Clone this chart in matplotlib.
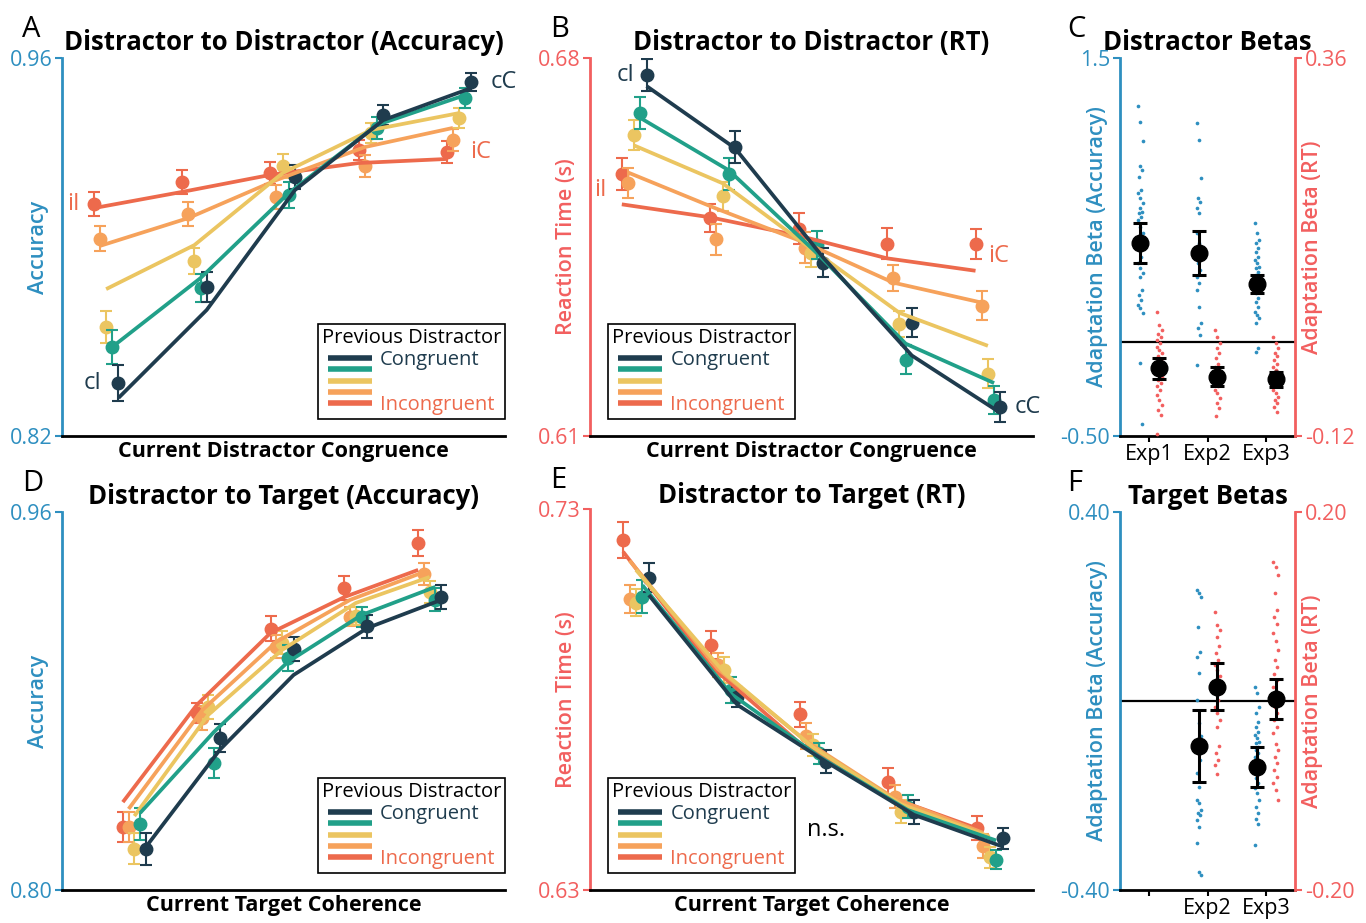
import numpy as np
import matplotlib
matplotlib.use("Agg")
import matplotlib.pyplot as plt

plt.rcParams['font.family'] = ['Open Sans', 'DejaVu Sans']

NAVY = '#1f3c4e'
TEAL = '#21a089'
YELLOW = '#ebc561'
ORANGE = '#f6a25b'
RED = '#ed6a4c'
BLUE = '#2e8fc0'
PINK = '#f25f5f'
colors = [NAVY, TEAL, YELLOW, ORANGE, RED]
legend_labels = ['Congruent', '', '', '', 'Incongruent']
levels = [1, 2, 3, 4, 5]

# --- A: distractor -> distractor, accuracy (rows: navy, teal, yellow, orange, red)
a_pts = [[0.8396, 0.8752, 0.9159, 0.9389, 0.9511],
         [0.8530, 0.8748, 0.9093, 0.9341, 0.9452],
         [0.8604, 0.8848, 0.9200, 0.9322, 0.9378],
         [0.8930, 0.9022, 0.9085, 0.9200, 0.9296],
         [0.9059, 0.9141, 0.9174, 0.9259, 0.9252]]
a_fit = [[0.8341, 0.8667, 0.9111, 0.9370, 0.9489],
         [0.8530, 0.8785, 0.9100, 0.9352, 0.9463],
         [0.8744, 0.8907, 0.9174, 0.9333, 0.9396],
         [0.8904, 0.9007, 0.9148, 0.9270, 0.9341],
         [0.9044, 0.9104, 0.9167, 0.9211, 0.9226]]
a_err = [[0.0068, 0.0056, 0.0043, 0.0037, 0.0035],
         [0.0064, 0.0052, 0.0049, 0.0040, 0.0038],
         [0.0060, 0.0047, 0.0043, 0.0037, 0.0037],
         [0.0046, 0.0046, 0.0046, 0.0041, 0.0040],
         [0.0043, 0.0044, 0.0040, 0.0037, 0.0040]]

# --- B: distractor -> distractor, RT
b_pts = [[0.6768, 0.6635, 0.6421, 0.6310, 0.6154],
         [0.6698, 0.6585, 0.6453, 0.6241, 0.6167],
         [0.6657, 0.6544, 0.6438, 0.6308, 0.6215],
         [0.6568, 0.6464, 0.6449, 0.6393, 0.6341],
         [0.6585, 0.6503, 0.6484, 0.6456, 0.6455]]
b_fit = [[0.6748, 0.6633, 0.6430, 0.6249, 0.6143],
         [0.6689, 0.6592, 0.6438, 0.6271, 0.6198],
         [0.6638, 0.6568, 0.6447, 0.6328, 0.6267],
         [0.6588, 0.6521, 0.6458, 0.6384, 0.6347],
         [0.6529, 0.6505, 0.6471, 0.6429, 0.6406]]
b_err = [[0.0030, 0.0030, 0.0027, 0.0027, 0.0028],
         [0.0029, 0.0029, 0.0026, 0.0027, 0.0026],
         [0.0028, 0.0027, 0.0025, 0.0024, 0.0027],
         [0.0028, 0.0028, 0.0028, 0.0024, 0.0027],
         [0.0030, 0.0026, 0.0029, 0.0029, 0.0028]]

# --- D: distractor -> target, accuracy
d_pts = [[0.8174, 0.8643, 0.9020, 0.9117, 0.9240],
         [0.8279, 0.8538, 0.8982, 0.9156, 0.9228],
         [0.8174, 0.8775, 0.9046, 0.9160, 0.9261],
         [0.8267, 0.8728, 0.9029, 0.9156, 0.9338],
         [0.8267, 0.8749, 0.9105, 0.9278, 0.9469]]
d_fit = [[0.8182, 0.8593, 0.8910, 0.9109, 0.9228],
         [0.8326, 0.8669, 0.8965, 0.9164, 0.9283],
         [0.8313, 0.8741, 0.9016, 0.9215, 0.9325],
         [0.8343, 0.8762, 0.9050, 0.9228, 0.9346],
         [0.8372, 0.8783, 0.9088, 0.9240, 0.9355]]
d_err = [[0.0068, 0.0060, 0.0051, 0.0049, 0.0049],
         [0.0069, 0.0063, 0.0053, 0.0042, 0.0049],
         [0.0066, 0.0052, 0.0049, 0.0039, 0.0046],
         [0.0063, 0.0051, 0.0049, 0.0040, 0.0046],
         [0.0063, 0.0042, 0.0053, 0.0049, 0.0054]]

# --- E: distractor -> target, RT
e_pts = [[0.7120, 0.6807, 0.6637, 0.6504, 0.6436],
         [0.7070, 0.6825, 0.6659, 0.6519, 0.6380],
         [0.7054, 0.6877, 0.6681, 0.6506, 0.6386],
         [0.7063, 0.6891, 0.6704, 0.6545, 0.6415],
         [0.7219, 0.6943, 0.6761, 0.6584, 0.6462]]
e_fit = [[0.7074, 0.6786, 0.6637, 0.6497, 0.6414],
         [0.7100, 0.6815, 0.6650, 0.6510, 0.6430],
         [0.7140, 0.6870, 0.6675, 0.6525, 0.6440],
         [0.7165, 0.6880, 0.6690, 0.6540, 0.6450],
         [0.7188, 0.6886, 0.6685, 0.6545, 0.6462]]
e_err = [[0.0039, 0.0027, 0.0031, 0.0031, 0.0028],
         [0.0044, 0.0033, 0.0028, 0.0031, 0.0026],
         [0.0035, 0.0035, 0.0028, 0.0031, 0.0027],
         [0.0037, 0.0032, 0.0034, 0.0030, 0.0031],
         [0.0048, 0.0036, 0.0032, 0.0035, 0.0031]]

# --- C: distractor betas (per subject), accuracy (left axis) and RT (right axis)
c_acc = {
    1: [1.246, 1.163, 1.063, 0.929, 0.907, 0.872, 0.802, 0.784, 0.757, 0.731, 0.705,
        0.687, 0.678, 0.661, 0.643, 0.608, 0.572, 0.546, 0.528, 0.502, 0.449, 0.414,
        0.387, 0.361, 0.343, 0.272, 0.246, 0.220, 0.193, 0.176, 0.149, -0.116, -0.434],
    2: [1.158, 1.066, 0.863, 0.757, 0.740, 0.705, 0.678, 0.572, 0.519, 0.466, 0.414,
        0.378, 0.343, 0.308, 0.272, 0.184, 0.096, 0.070, 0.034, -0.124],
    3: [0.625, 0.572, 0.537, 0.519, 0.493, 0.475, 0.449, 0.431, 0.414, 0.396, 0.387,
        0.369, 0.352, 0.334, 0.317, 0.290, 0.272, 0.255, 0.228, 0.211, 0.184, 0.158,
        0.140, 0.123, 0.096, -0.036, -0.054],
}
c_rt = {
    1: [0.038, 0.021, 0.015, 0.010, 0.006, 0.002, -0.002, -0.007, -0.011, -0.015,
        -0.019, -0.024, -0.028, -0.032, -0.036, -0.040, -0.045, -0.049, -0.053,
        -0.057, -0.062, -0.068, -0.074, -0.081, -0.087, -0.093, -0.117],
    2: [0.015, 0.006, -0.002, -0.008, -0.015, -0.021, -0.028, -0.032, -0.036, -0.040,
        -0.044, -0.049, -0.053, -0.057, -0.061, -0.066, -0.072, -0.078, -0.085, -0.095],
    3: [0.006, -0.002, -0.008, -0.015, -0.019, -0.023, -0.028, -0.032, -0.036, -0.040,
        -0.044, -0.049, -0.053, -0.057, -0.061, -0.066, -0.070, -0.074, -0.078,
        -0.083, -0.089],
}
c_acc_mean = [0.521, 0.468, 0.304]
c_acc_sem = [0.106, 0.116, 0.048]
c_rt_mean = [-0.034, -0.045, -0.048]
c_rt_sem = [0.013, 0.012, 0.0095]

# --- F: target betas (Exp2, Exp3 only)
f_acc = {
    2: [0.235, 0.228, 0.221, 0.157, 0.104, 0.094, 0.059, 0.002, -0.047, -0.075, -0.104,
        -0.125, -0.153, -0.181, -0.210, -0.216, -0.231, -0.238, -0.241, -0.252, -0.266,
        -0.301, -0.361, -0.369],
    3: [0.030, 0.016, -0.012, -0.026, -0.044, -0.054, -0.065, -0.072, -0.079, -0.086,
        -0.089, -0.097, -0.104, -0.111, -0.118, -0.125, -0.132, -0.142, -0.153, -0.163,
        -0.174, -0.185, -0.195, -0.210, -0.224, -0.238, -0.249, -0.260, -0.305],
}
f_rt = {
    2: [0.094, 0.080, 0.075, 0.068, 0.058, 0.051, 0.043, 0.038, 0.033, 0.026, 0.021,
        0.015, 0.008, 0.001, -0.006, -0.013, -0.020, -0.027, -0.048, -0.055, -0.062,
        -0.068, -0.077],
    3: [0.147, 0.142, 0.133, 0.114, 0.096, 0.089, 0.082, 0.072, 0.063, 0.054, 0.043,
        0.036, 0.029, 0.022, 0.015, 0.008, 0.001, -0.006, -0.013, -0.020, -0.027,
        -0.034, -0.045, -0.052, -0.059, -0.066, -0.073, -0.080, -0.087, -0.094, -0.105],
}
f_acc_mean = {2: -0.095, 3: -0.140}
f_acc_sem = {2: 0.076, 3: 0.042}
f_rt_mean = {2: 0.015, 3: 0.002}
f_rt_sem = {2: 0.025, 3: 0.021}

TITLE_FS = 18.5
LABEL_FS = 15.5
TICK_FS = 15.5
LEG_FS = 14.5

fig = plt.figure(figsize=(13.66, 9.23), dpi=100)

W, H = 1366.0, 923.0


def box(l, t, r, b):
    return [l / W, 1 - b / H, (r - l) / W, (b - t) / H]


def line_panel(rect, pts, fit, err, xoff, xlim, ylim, ylabels, axcol, ylabel,
               xlabel, title, letter, leg_loc, leg_anchor, tpad=6):
    ax = fig.add_axes(rect)
    handles = []
    for i in range(4, -1, -1):
        x = np.array(levels) + (2 - i) * xoff
        ax.errorbar(x, pts[i], yerr=err[i], fmt='o', ms=9, color=colors[i],
                    elinewidth=1.5, capsize=4, capthick=1.5, zorder=3 + (4 - i))
        ln, = ax.plot(x, fit[i], color=colors[i], lw=2.7, zorder=10 + (4 - i),
                      solid_capstyle='butt')
        handles.append(ln)
    handles = handles[::-1]
    ax.set_xlim(*xlim)
    ax.set_ylim(*ylim)
    ax.set_xticks([])
    ax.set_yticks(ylim)
    ax.set_yticklabels(ylabels)
    ax.tick_params(axis='y', colors=axcol, length=5, width=1.5, labelsize=TICK_FS, pad=2)
    for s in ['top', 'right']:
        ax.spines[s].set_visible(False)
    ax.spines['left'].set_color(axcol)
    ax.spines['left'].set_linewidth(2)
    ax.spines['bottom'].set_linewidth(2)
    ax.set_ylabel(ylabel, color=axcol, fontsize=LABEL_FS, fontweight='semibold')
    ax.yaxis.set_label_coords(-0.03, 0.5)
    ax.set_xlabel(xlabel, fontsize=LABEL_FS, fontweight='bold')
    ax.xaxis.set_label_coords(0.5, -0.014)
    ax.set_title(title, fontsize=TITLE_FS, fontweight='bold', pad=tpad)
    ax.text(-0.09, 1.075, letter, transform=ax.transAxes, fontsize=21,
            ha='left', va='center')
    leg = ax.legend(handles, legend_labels, title='Previous Distractor', loc=leg_loc,
                    bbox_to_anchor=leg_anchor, fontsize=LEG_FS, title_fontsize=LEG_FS,
                    frameon=True, fancybox=False, edgecolor='black', framealpha=1,
                    handlelength=2.2, labelspacing=-0.44, borderpad=0.2,
                    handletextpad=0.4, borderaxespad=0)
    # rows are packed tightly; keep the title clear of the first row
    leg._legend_box.sep = 1.5
    leg.get_frame().set_linewidth(1.2)
    leg.set_zorder(30)
    for l in leg.get_lines():
        l.set_linewidth(4)
    leg.get_texts()[0].set_color(NAVY)
    leg.get_texts()[4].set_color(RED)
    return ax


def beta_panel(rect, acc, rt, acc_mean, acc_sem, rt_mean, rt_sem, exps, ylim_l,
               ylim_r, ll, rl, xt_labels, title, letter):
    ax = fig.add_axes(rect)
    ax2 = ax.twinx()
    for e in exps:
        va = np.array(acc[e])
        n = len(va)
        jit = ((np.arange(n) * 3) % 7 - 3) * 0.012
        ax.scatter(e - 0.15 + jit, va, s=7, color=BLUE, lw=0, zorder=2)
        vr = np.array(rt[e])
        n = len(vr)
        jit = ((np.arange(n) * 3) % 7 - 3) * 0.014
        ax2.scatter(e + 0.17 + jit, vr, s=7, color=PINK, lw=0, zorder=2)
        ax.errorbar([e - 0.15], [acc_mean[e]], yerr=[acc_sem[e]], fmt='o', ms=12,
                    color='black', elinewidth=2.2, capsize=5, capthick=2.2, zorder=5)
        ax2.errorbar([e + 0.17], [rt_mean[e]], yerr=[rt_sem[e]], fmt='o', ms=12,
                     color='black', elinewidth=2.2, capsize=5, capthick=2.2, zorder=5)
    ax.axhline(0, color='black', lw=1.6, zorder=1)
    ax.set_xlim(0.5, 3.5)
    ax.set_ylim(*ylim_l)
    ax2.set_ylim(*ylim_r)
    ax.set_yticks(ylim_l)
    ax.set_yticklabels(ll)
    ax2.set_yticks(ylim_r)
    ax2.set_yticklabels(rl)
    ax.set_xticks([1, 2, 3])
    ax.set_xticklabels(xt_labels)
    ax.tick_params(axis='x', length=4, width=1.5, labelsize=TICK_FS, pad=2)
    ax.tick_params(axis='y', colors=BLUE, length=5, width=1.5, labelsize=TICK_FS, pad=2)
    ax2.tick_params(axis='y', colors=PINK, length=5, width=1.5, labelsize=TICK_FS, pad=2)
    for a in (ax, ax2):
        a.spines['top'].set_visible(False)
    ax.spines['right'].set_visible(False)
    ax2.spines['left'].set_visible(False)
    ax2.spines['bottom'].set_visible(False)
    ax.spines['left'].set_color(BLUE)
    ax.spines['left'].set_linewidth(2)
    ax2.spines['right'].set_color(PINK)
    ax2.spines['right'].set_linewidth(2)
    ax.spines['bottom'].set_linewidth(2)
    ax.set_ylabel('Adaptation Beta (Accuracy)', color=BLUE, fontsize=LABEL_FS,
                  fontweight='semibold')
    ax.yaxis.set_label_coords(-0.07, 0.5)
    ax2.set_ylabel('Adaptation Beta (RT)', color=PINK, fontsize=LABEL_FS,
                   fontweight='semibold')
    ax2.yaxis.set_label_coords(1.04, 0.5)
    ax.set_title(title, fontsize=TITLE_FS, fontweight='bold', pad=6)
    ax.text(-0.3, 1.075, letter, transform=ax.transAxes, fontsize=21,
            ha='left', va='center')
    return ax, ax2


# A
axA = line_panel(box(62, 58, 505, 436), a_pts, a_fit, a_err, 0.07, (0.5, 5.52),
                 (0.82, 0.96), ['0.82', '0.96'], BLUE, 'Accuracy',
                 'Current Distractor Congruence', 'Distractor to Distractor (Accuracy)',
                 'A', 'lower right', (1.0, 0.045))
axA.text(0.85, a_pts[0][0], 'cI', color=NAVY, fontsize=17, ha='center', va='center')
axA.text(0.63, a_pts[4][0], 'iI', color=RED, fontsize=17, ha='center', va='center')
axA.text(5.36, a_pts[0][4], 'cC', color=NAVY, fontsize=17, ha='left', va='center',
         clip_on=False)
axA.text(5.13, a_pts[4][4], 'iC', color=RED, fontsize=17, ha='left', va='center')

# B
axB = line_panel(box(590, 58, 1033, 436), b_pts, b_fit, b_err, 0.07, (0.5, 5.51),
                 (0.61, 0.68), ['0.61', '0.68'], PINK, 'Reaction Time (s)',
                 'Current Distractor Congruence', 'Distractor to Distractor (RT)',
                 'B', 'lower left', (0.04, 0.045))
axB.text(0.9, b_pts[0][0], 'cI', color=NAVY, fontsize=17, ha='center', va='center')
axB.text(0.62, 0.6555, 'iI', color=RED, fontsize=17, ha='center', va='center')
axB.text(5.0, 0.6434, 'iC', color=RED, fontsize=17, ha='left', va='center')
axB.text(5.3, b_pts[0][4], 'cC', color=NAVY, fontsize=17, ha='left', va='center',
         clip_on=False)

# D
axD = line_panel(box(62, 512, 505, 890), d_pts, d_fit, d_err, 0.078, (0.02, 6.02),
                 (0.80, 0.96), ['0.80', '0.96'], BLUE, 'Accuracy',
                 'Current Target Coherence', 'Distractor to Target (Accuracy)',
                 'D', 'lower right', (1.0, 0.045))

# E
axE = line_panel(box(590, 509, 1033, 890), e_pts, e_fit, e_err, 0.073, (0.48, 5.49),
                 (0.63, 0.73), ['0.63', '0.73'], PINK, 'Reaction Time (s)',
                 'Current Target Coherence', 'Distractor to Target (RT)',
                 'E', 'lower left', (0.04, 0.045), tpad=3)
axE.text(3.15, 0.6458, 'n.s.', color='black', fontsize=17, ha='center', va='center')

# C
beta_panel(box(1120, 58, 1295, 436), c_acc, c_rt,
           dict(zip([1, 2, 3], c_acc_mean)), dict(zip([1, 2, 3], c_acc_sem)),
           dict(zip([1, 2, 3], c_rt_mean)), dict(zip([1, 2, 3], c_rt_sem)),
           [1, 2, 3], (-0.5, 1.5), (-0.12, 0.36), ['-0.50', '1.5'], ['-0.12', '0.36'],
           ['Exp1', 'Exp2', 'Exp3'], 'Distractor Betas', 'C')

# F
beta_panel(box(1120, 512, 1295, 890), f_acc, f_rt, f_acc_mean, f_acc_sem,
           f_rt_mean, f_rt_sem, [2, 3], (-0.4, 0.4), (-0.2, 0.2),
           ['-0.40', '0.40'], ['-0.20', '0.20'], ['', 'Exp2', 'Exp3'],
           'Target Betas', 'F')

fig.savefig('out.png', dpi=100)
